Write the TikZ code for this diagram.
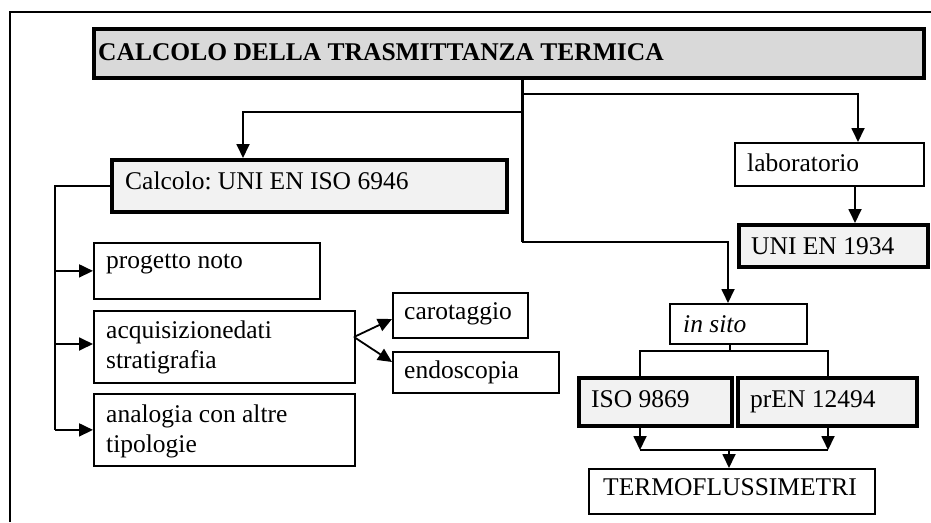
\documentclass[tikz,border=0pt]{standalone}
\usepackage{fontspec}
\setmainfont{Liberation Serif}
\usetikzlibrary{arrows.meta}
\definecolor{titlegray}{HTML}{D9D9D9}
\definecolor{stdgray}{HTML}{F2F2F2}
\frenchspacing
\begin{document}
\begin{tikzpicture}[x=1pt,y=-1pt,
  plainbox/.style={draw=black,line width=1.8pt,fill=white,inner sep=0pt},
  stdbox/.style={draw=black,line width=3.5pt,fill=stdgray,inner sep=0pt},
  titlebox/.style={draw=black,line width=4pt,fill=titlegray,inner sep=0pt},
  txt/.style={anchor=base west,inner sep=0pt,font=\fontsize{25.5}{30}\selectfont},
  conn/.style={line width=1.8pt},
  trunk/.style={line width=3pt},
  arr/.style={line width=1.8pt,-{Triangle[length=14pt,width=13pt]}},
]
\useasboundingbox (0,0) rectangle (931,522);
% outer frame
\draw[line width=1.5pt] (10,522) -- (10,12) -- (935,12);
% boxes: (x1,y1) corners
\newcommand{\mybox}[6]{\node[#2,minimum width=#5-#3,minimum height=#6-#4,anchor=north west] (#1) at (#3,#4) {};}
\mybox{title}{titlebox}{92}{27}{922}{76}
\mybox{calc}{stdbox}{110}{158}{505}{210}
\mybox{lab}{plainbox}{734}{142}{923}{185}
\mybox{uni}{stdbox}{737}{223}{926}{265}
\mybox{insito}{plainbox}{669}{303}{806}{343}
\mybox{iso}{stdbox}{577}{376}{730}{424}
\mybox{pren}{stdbox}{736}{376}{915}{424}
\mybox{termo}{plainbox}{588}{468}{874}{513}
\mybox{prog}{plainbox}{93}{242}{319}{298}
\mybox{acq}{plainbox}{93}{310}{354}{382}
\mybox{ana}{plainbox}{93}{393}{354}{465}
\mybox{caro}{plainbox}{392}{292}{527}{337}
\mybox{endo}{plainbox}{392}{351}{558}{392}
% texts
\node[txt,font=\fontsize{25.5}{30}\selectfont\bfseries] (ttitle) at (98,60) {CALCOLO DELLA TRASMITTANZA TERMICA};
\node[txt] (tcalc) at (125,189) {Calcolo: UNI EN ISO 6946};
\node[txt] (tlab) at (747,171) {laboratorio};
\node[txt] (tuni) at (751,254) {UNI EN 1934};
\node[txt] (tins) at (683,332) {\itshape in sito};
\node[txt] (tiso) at (591,407) {ISO 9869};
\node[txt] (tpren) at (750,407) {prEN 12494};
\node[txt] (ttermo) at (603,495) {TERMOFLUSSIMETRI};
\node[txt] (tprog) at (106,268) {progetto noto};
\node[txt,align=left] (tacq) at (106,368) {acquisizionedati\\stratigrafia};
\node[txt,align=left] (tana) at (106,452) {analogia con altre\\tipologie};
\node[txt] (tcaro) at (404,319) {carotaggio};
\node[txt] (tendo) at (404,378) {endoscopia};
% connectors
\coordinate (tr) at (522,0);
\draw[trunk] (title.south -| tr) -- (522,242) coordinate (trb);
\draw[arr] (522,94) -| (858,0 |- lab.north);
\draw[arr] (522,112) -| (243,0 |- calc.north);
\draw[arr] (trb) -| (728,0 |- insito.north);
\draw[arr] (855,0 |- lab.south) -- (855,0 |- uni.north);
% in sito split
\coordinate (sl) at (640,351);
\coordinate (sr) at (828,351);
\draw[conn] (730,0 |- insito.south) -- (730,351);
\draw[conn] (sl |- iso.north) -- (sl) -- (sr) -- (sr |- pren.north);
% merge
\coordinate (ml) at (640,450);
\coordinate (mr) at (828,450);
\draw[arr] (ml |- iso.south) -- (ml);
\draw[arr] (mr |- pren.south) -- (mr);
\draw[conn] (ml) -- (mr);
\draw[arr] (729,450) -- (729,0 |- termo.north);
% left branch
\coordinate (lt) at (55,0 |- calc.west);
\draw[conn] (calc.west) -- (lt) -- (55,0 |- ana.west);
\draw[arr] (55,0 |- prog.west) -- (prog.west);
\draw[arr] (55,344) -- (acq.west |- 0,344);
\draw[arr] (55,0 |- ana.west) -- (ana.west);
% acquisizione split
\coordinate (ac) at (354,337);
\draw[arr] (ac) -- (caro.west |- 0,319);
\draw[arr] (ac) -- (endo.west |- 0,362);
\end{tikzpicture}
\end{document}
